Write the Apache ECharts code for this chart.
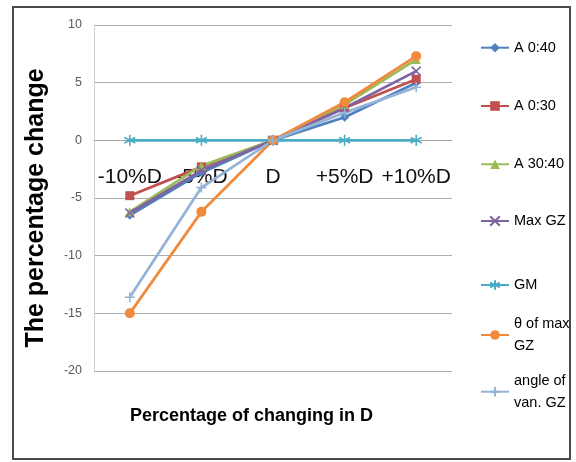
<!DOCTYPE html>
<html>
<head>
<meta charset="utf-8">
<script src="https://cdn.jsdelivr.net/npm/echarts@6/dist/echarts.min.js"></script>
<style>
html, body { margin: 0; padding: 0; background: #fff; }
#chart { width: 576px; height: 462px; }
</style>
</head>
<body>
<div id="chart"></div>
<script>
// values
var categories = ['-10%D', '-5%D', 'D', '+5%D', '+10%D'];
var a040 = [-6.5, -2.8, 0, 2.0, 5.0];
var a030 = [-4.8, -2.3, 0, 2.8, 5.3];
var a3040 = [-6.2, -2.2, 0, 3.1, 7.0];
var maxGZ = [-6.3, -2.6, 0, 2.8, 6.0];
var gm = [0, 0, 0, 0, 0];
var thetaMaxGZ = [-15.0, -6.2, 0, 3.3, 7.3];
var angleVanGZ = [-13.6, -4.1, 0, 2.4, 4.6];
var yTicks = [10, 5, 0, -5, -10, -15, -20];

var seriesDefs = [
  { name: 'A 0:40', label: 'A 0:40', data: a040, color: '#4F81BD', symbol: 'diamond', size: 9, legendY: 47.7 },
  { name: 'A 0:30', label: 'A 0:30', data: a030, color: '#C0504D', symbol: 'rect', size: 9, legendY: 106 },
  { name: 'A 30:40', label: 'A 30:40', data: a3040, color: '#9BBB59', symbol: 'triangle', size: 9, legendY: 164.3 },
  { name: 'Max GZ', label: 'Max GZ', data: maxGZ, color: '#8064A2', symbol: 'path://M0,0L10,10M10,0L0,10', size: 9, stroke: true, legendY: 221 },
  { name: 'GM', label: 'GM', data: gm, color: '#4BACC6', symbol: 'path://M5,0L5,10M0.7,2.5L9.3,7.5M9.3,2.5L0.7,7.5', size: 11, stroke: true, legendY: 285 },
  { name: 'θ of max GZ', label: 'θ of max\nGZ', data: thetaMaxGZ, color: '#F08A3C', symbol: 'circle', size: 10, legendY: 335 },
  { name: 'angle of van. GZ', label: 'angle of\nvan. GZ', data: angleVanGZ, color: '#95B3D7', symbol: 'path://M5,0L5,10M0,5L10,5', size: 10, stroke: true, legendY: 391.7 }
];

var gridTop = 25, gridBottom = 91, chartH = 462;
var plotH = chartH - gridTop - gridBottom;
// category axis sits at y = 0 like the excel chart
var zeroFromBottom = plotH * (0 - yTicks[yTicks.length - 1]) / (yTicks[0] - yTicks[yTicks.length - 1]);

var chart = echarts.init(document.getElementById('chart'));

var series = [];
var legends = [];
var labelMap = {};
seriesDefs.forEach(function (d) {
  labelMap[d.name] = d.label;
  series.push({
    name: d.name,
    type: 'line',
    data: d.data,
    symbol: d.symbol,
    symbolSize: d.size,
    showAllSymbol: true,
    lineStyle: { width: 2.75, color: d.color },
    itemStyle: d.stroke
      ? { color: d.color, borderColor: d.color, borderWidth: 1.6 }
      : { color: d.color },
    emphasis: { disabled: true },
    animation: false
  });
  var twoLine = d.label.indexOf('\n') >= 0;
  legends.push({
    left: 480,
    top: twoLine ? d.legendY - 33 : d.legendY - 10,
    padding: 0,
    itemWidth: 28,
    itemHeight: 12,
    formatter: function (n) { return labelMap[n]; },
    textStyle: {
      fontFamily: 'Liberation Sans, Arial, sans-serif',
      fontSize: 14.5,
      color: '#000',
      lineHeight: twoLine ? 22 : 20,
      padding: twoLine ? [22, 0, 0, 0] : 0
    },
    data: [d.name],
    selectedMode: false
  });
});

var option = {
  backgroundColor: '#fff',
  animation: false,
  graphic: [{
    type: 'rect',
    shape: { x: 13, y: 7, width: 557, height: 452 },
    style: { fill: 'none', stroke: '#4a4a4a', lineWidth: 2 },
    silent: true
  }, {
    type: 'text',
    left: 130,
    top: 407,
    style: {
      text: 'Percentage of changing in D',
      fontFamily: 'Liberation Sans, Arial, sans-serif',
      fontSize: 18, fontWeight: 'bold', fill: '#000'
    },
    silent: true
  }],
  legend: legends,
  grid: { left: 94, right: 124, top: gridTop, bottom: gridBottom, outerBoundsMode: 'none', containLabel: false },
  xAxis: [{
    type: 'category',
    data: categories,
    boundaryGap: true,
    position: 'bottom',
    offset: -zeroFromBottom,
    axisLine: { onZero: false, lineStyle: { color: '#A6A6A6', width: 1 } },
    axisTick: { show: false },
    axisLabel: {
      interval: 0,
      hideOverlap: false,
      margin: 26,
      fontFamily: 'Liberation Sans, Arial, sans-serif',
      fontSize: 21,
      color: '#111'
    }
  }],
  yAxis: {
    type: 'value',
    min: yTicks[yTicks.length - 1],
    max: yTicks[0],
    interval: 5,
    name: 'The percentage change',
    nameLocation: 'middle',
    nameGap: 45,
    nameRotate: 90,
    nameTextStyle: {
      fontFamily: 'Liberation Sans, Arial, sans-serif',
      fontSize: 25, fontWeight: 'bold', color: '#000',
      padding: [0, 20, 0, 0]
    },
    axisLine: { show: true, onZero: false, lineStyle: { color: '#D0D0D0', width: 1 } },
    axisTick: { show: false },
    axisLabel: {
      margin: 12,
      fontFamily: 'Liberation Sans, Arial, sans-serif',
      fontSize: 12.5,
      color: '#595959'
    },
    splitLine: { lineStyle: { color: '#ADADAD', width: 1 } }
  },
  series: series
};

chart.setOption(option);
</script>
</body>
</html>
